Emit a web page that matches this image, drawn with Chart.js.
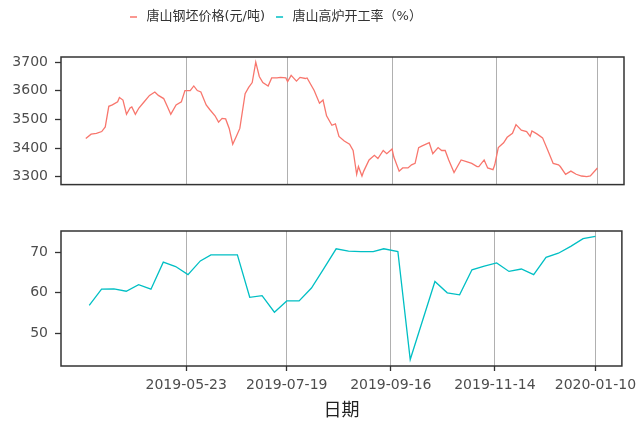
<!DOCTYPE html>
<html><head><meta charset="utf-8">
<script src="https://cdn.jsdelivr.net/npm/chart.js@4/dist/chart.umd.min.js"></script>
<style>
html,body{margin:0;padding:0;background:#fff;width:643px;height:425px;overflow:hidden}
#c1{position:absolute;left:0;top:0}
#c2{position:absolute;left:0;top:200px}
</style></head><body>
<canvas id="c1" width="643" height="200"></canvas>
<canvas id="c2" width="643" height="225"></canvas>
<script>
// ---------- data ----------
const seriesNames = ['唐山钢坯价格(元/吨)', '唐山高炉开工率（%）'];
const xTitle = '日期';
const priceDates = ['2019-03-27','2019-03-30','2019-04-02','2019-04-05','2019-04-07','2019-04-09','2019-04-11','2019-04-14','2019-04-15','2019-04-17','2019-04-19','2019-04-21','2019-04-22','2019-04-24','2019-04-26','2019-04-29','2019-05-02','2019-05-05','2019-05-07','2019-05-10','2019-05-12','2019-05-14','2019-05-17','2019-05-20','2019-05-22','2019-05-25','2019-05-27','2019-05-29','2019-05-31','2019-06-03','2019-06-05','2019-06-08','2019-06-10','2019-06-12','2019-06-14','2019-06-16','2019-06-18','2019-06-20','2019-06-22','2019-06-25','2019-06-27','2019-06-29','2019-07-01','2019-07-03','2019-07-05','2019-07-08','2019-07-10','2019-07-13','2019-07-15','2019-07-18','2019-07-19','2019-07-21','2019-07-24','2019-07-26','2019-07-29','2019-07-30','2019-08-03','2019-08-06','2019-08-08','2019-08-10','2019-08-13','2019-08-15','2019-08-17','2019-08-20','2019-08-23','2019-08-25','2019-08-27','2019-08-28','2019-08-30','2019-08-31','2019-09-03','2019-09-06','2019-09-08','2019-09-11','2019-09-13','2019-09-16','2019-09-17','2019-09-20','2019-09-22','2019-09-25','2019-09-27','2019-09-29','2019-10-01','2019-10-03','2019-10-07','2019-10-09','2019-10-12','2019-10-14','2019-10-16','2019-10-18','2019-10-21','2019-10-25','2019-10-28','2019-10-31','2019-11-03','2019-11-04','2019-11-07','2019-11-09','2019-11-12','2019-11-13','2019-11-15','2019-11-18','2019-11-20','2019-11-23','2019-11-25','2019-11-28','2019-12-01','2019-12-03','2019-12-04','2019-12-07','2019-12-10','2019-12-13','2019-12-16','2019-12-19','2019-12-20','2019-12-23','2019-12-26','2019-12-29','2020-01-01','2020-01-04','2020-01-06','2020-01-10'];
const priceValues = [3434,3449,3452,3458,3474,3546,3551,3562,3577,3568,3518,3540,3544,3518,3540,3562,3584,3596,3584,3573,3546,3518,3551,3562,3601,3601,3617,3601,3596,3551,3535,3513,3491,3504,3502,3469,3414,3441,3469,3590,3612,3629,3700,3650,3629,3617,3645,3645,3647,3645,3632,3654,3634,3647,3643,3645,3601,3557,3568,3513,3480,3485,3441,3425,3414,3392,3309,3336,3303,3320,3359,3375,3364,3392,3381,3397,3369,3320,3331,3331,3342,3347,3402,3408,3419,3381,3402,3392,3392,3359,3315,3359,3353,3347,3336,3336,3359,3331,3325,3342,3402,3419,3438,3452,3482,3463,3458,3441,3460,3449,3436,3392,3347,3342,3336,3309,3320,3309,3303,3301,3303,3331];
const rateDates = ['2019-03-29','2019-04-05','2019-04-12','2019-04-19','2019-04-26','2019-05-03','2019-05-10','2019-05-17','2019-05-24','2019-05-31','2019-06-06','2019-06-14','2019-06-21','2019-06-28','2019-07-05','2019-07-12','2019-07-19','2019-07-26','2019-08-02','2019-08-09','2019-08-16','2019-08-23','2019-08-30','2019-09-06','2019-09-12','2019-09-20','2019-09-27','2019-10-11','2019-10-18','2019-10-25','2019-11-01','2019-11-08','2019-11-15','2019-11-22','2019-11-29','2019-12-06','2019-12-13','2019-12-20','2019-12-27','2020-01-03','2020-01-10'];
const rateValues = [56.9,60.9,61.0,60.4,62.0,60.9,67.6,66.5,64.5,67.9,69.4,69.4,69.4,58.9,59.3,55.2,58.0,58.0,61.2,66.0,70.9,70.3,70.2,70.2,70.9,70.2,43.5,62.8,60.0,59.5,65.7,66.6,67.4,65.3,65.9,64.5,68.8,69.8,71.5,73.4,73.95];
const dateTicks = ['2019-05-23','2019-07-19','2019-09-16','2019-11-14','2020-01-10'];
const xRange = ['2019-03-13','2020-01-25'];
const priceTicks = [3300,3400,3500,3600,3700];
const priceRange = [3273,3718];
const rateTicks = [50,60,70];
const rateRange = [41.9,75.3];
const colors = ['#F8766D','#00BFC4'];

// ---------- helpers ----------
const day = s => Date.UTC(+s.slice(0,4), +s.slice(5,7)-1, +s.slice(8,10)) / 86400000;
const fmt = d => new Date(Math.round(d) * 86400000).toISOString().slice(0,10);
const FAMILY = '"DejaVu Sans", "Noto Sans CJK SC", sans-serif';
Chart.defaults.font.family = FAMILY;
Chart.defaults.animation = false;

const boxPlugin = {
  id: 'panelBox',
  afterDraw(chart) {
    const {ctx, chartArea: a} = chart;
    ctx.save();
    ctx.strokeStyle = '#333';
    ctx.lineWidth = 1.5;
    ctx.strokeRect(a.left, a.top, a.right - a.left, a.bottom - a.top);
    ctx.restore();
  }
};
const legendPos = {
  id: 'legendPos',
  afterLayout(chart) {
    const lg = chart.legend;
    if (!lg) return;
    const h = lg.height;
    lg.left = 127 - 8; lg.right = 643;
    lg.top = 2.5; lg.bottom = 2.5 + h;
  }
};

function xScale(showLabels) {
  return {
    type: 'linear',
    min: day(xRange[0]), max: day(xRange[1]),
    afterBuildTicks: ax => { ax.ticks = dateTicks.map(s => ({value: day(s)})); },
    afterFit: ax => { ax.height = showLabels ? 59 : 0; },
    border: {display: false},
    grid: {color: '#b0b0b0', lineWidth: 1, drawOnChartArea: true, drawTicks: showLabels, tickLength: 5, tickColor: '#333', tickWidth: 1.3},
    ticks: {display: showLabels, autoSkip: false, maxRotation: 0, padding: 6, color: '#4d4d4d', font: {size: 14}, callback: v => fmt(v)},
    title: {display: showLabels, text: xTitle, color: '#222', font: {size: 18}, padding: {top: 0, bottom: 3}}
  };
}
function yScale(ticks, range) {
  return {
    type: 'linear',
    min: range[0], max: range[1],
    afterBuildTicks: ax => { ax.ticks = ticks.map(v => ({value: v})); },
    afterFit: ax => { ax.width = 61; },
    border: {display: false},
    grid: {drawOnChartArea: false, drawTicks: true, tickLength: 6, tickColor: '#333', tickWidth: 1.3},
    ticks: {autoSkip: false, padding: 7, color: '#4d4d4d', font: {size: 14}, callback: v => String(v)}
  };
}

new Chart(document.getElementById('c1'), {
  type: 'line',
  data: {datasets: [{
    label: seriesNames[0],
    data: priceDates.map((d, i) => ({x: day(d), y: priceValues[i]})),
    borderColor: colors[0], borderWidth: 1.3, pointRadius: 0, tension: 0, fill: false
  }]},
  options: {
    responsive: false, devicePixelRatio: 1,
    layout: {padding: {top: 26, left: 0, right: 19, bottom: 10}},
    plugins: {
      tooltip: {enabled: false},
      legend: {
        display: true, position: 'top', align: 'start',
        labels: {
          usePointStyle: true, boxHeight: 5, padding: 8, color: '#333', font: {size: 13},
          generateLabels: () => seriesNames.map((t, i) => ({
            text: t, strokeStyle: colors[i], fillStyle: colors[i], fontColor: '#333',
            lineWidth: 1.5, pointStyle: 'line', hidden: false, datasetIndex: i
          }))
        }
      }
    },
    scales: {x: xScale(false), y: yScale(priceTicks, priceRange)}
  },
  plugins: [boxPlugin, legendPos]
});

new Chart(document.getElementById('c2'), {
  type: 'line',
  data: {datasets: [{
    label: seriesNames[1],
    data: rateDates.map((d, i) => ({x: day(d), y: rateValues[i]})),
    borderColor: colors[1], borderWidth: 1.3, pointRadius: 0, tension: 0, fill: false
  }]},
  options: {
    responsive: false, devicePixelRatio: 1,
    layout: {padding: {top: 31, left: 0, right: 19, bottom: 0}},
    plugins: {tooltip: {enabled: false}, legend: {display: false}},
    scales: {x: xScale(true), y: yScale(rateTicks, rateRange)}
  },
  plugins: [boxPlugin]
});
</script>
</body></html>
